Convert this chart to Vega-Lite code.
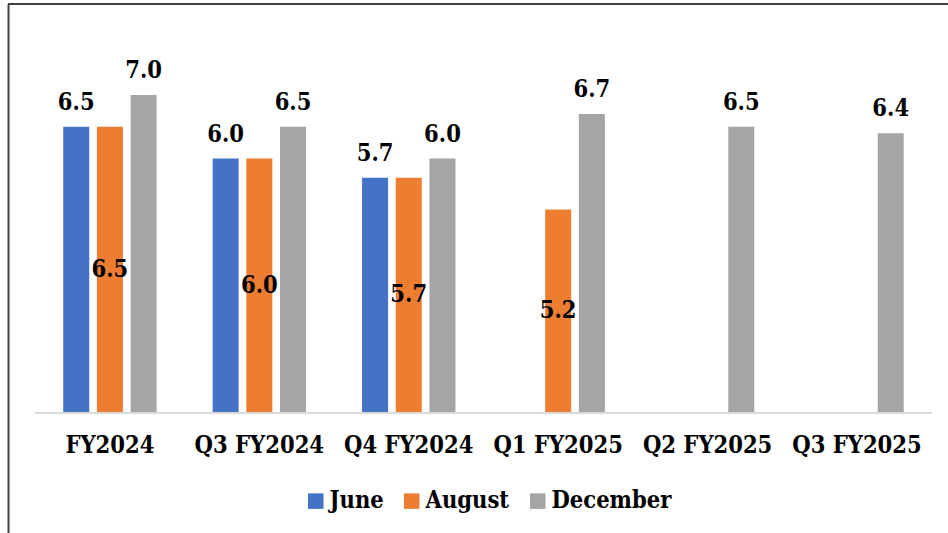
{
  "$schema": "https://vega.github.io/schema/vega-lite/v6.json",
  "width": 940,
  "height": 529,
  "autosize": {"type": "none"},
  "padding": {"left": 8, "top": 4, "right": 0, "bottom": 0},
  "background": "white",
  "config": {"view": {"stroke": null}, "font": "DejaVu Serif Condensed"},
  "data": {
    "values": [
      {"period": "FY2024", "release": "June", "value": 6.5},
      {"period": "FY2024", "release": "August", "value": 6.5},
      {"period": "FY2024", "release": "December", "value": 7.0},
      {"period": "Q3 FY2024", "release": "June", "value": 6.0},
      {"period": "Q3 FY2024", "release": "August", "value": 6.0},
      {"period": "Q3 FY2024", "release": "December", "value": 6.5},
      {"period": "Q4 FY2024", "release": "June", "value": 5.7},
      {"period": "Q4 FY2024", "release": "August", "value": 5.7},
      {"period": "Q4 FY2024", "release": "December", "value": 6.0},
      {"period": "Q1 FY2025", "release": "August", "value": 5.2},
      {"period": "Q1 FY2025", "release": "December", "value": 6.7},
      {"period": "Q2 FY2025", "release": "December", "value": 6.5},
      {"period": "Q3 FY2025", "release": "December", "value": 6.4}
    ]
  },
  "layer": [
    {
      "mark": {"type": "bar"},
      "encoding": {
        "x": {
          "field": "period",
          "type": "nominal",
          "scale": {
            "domain": ["FY2024", "Q3 FY2024", "Q4 FY2024", "Q1 FY2025", "Q2 FY2025", "Q3 FY2025"],
            "paddingInner": 0.375,
            "paddingOuter": 0.333,
            "align": 0.555
          },
          "axis": {
            "title": null,
            "domain": false,
            "ticks": false,
            "grid": false,
            "labelAngle": 0,
            "labelFont": "DejaVu Serif Condensed",
            "labelFontWeight": "bold",
            "labelFontSize": 23.5,
            "labelColor": "#000000",
            "labelPadding": 20,
            "offset": -120
          }
        },
        "xOffset": {
          "field": "release",
          "type": "nominal",
          "scale": {"domain": ["June", "August", "December"], "paddingInner": 0.228, "paddingOuter": 0}
        },
        "y": {
          "field": "value",
          "type": "quantitative",
          "scale": {"domain": [0.113, 8.431], "nice": false, "zero": false},
          "axis": {
            "title": null,
            "domain": true,
            "domainColor": "#404040",
            "domainWidth": 2,
            "labels": false,
            "ticks": false,
            "grid": false
          }
        },
        "y2": {"datum": 2},
        "color": {
          "field": "release",
          "type": "nominal",
          "scale": {"domain": ["June", "August", "December"], "range": ["#4472C4", "#ED7D31", "#A5A5A5"]},
          "legend": {
            "title": null,
            "orient": "none",
            "legendX": 296,
            "legendY": 485,
            "direction": "horizontal",
            "symbolType": "square",
            "symbolSize": 240,
            "symbolStrokeWidth": 0,
            "labelFont": "DejaVu Serif Condensed",
            "labelFontWeight": "bold",
            "labelFontSize": 23.5,
            "labelColor": "#000000",
            "labelOffset": 2,
            "columnPadding": 16,
            "labelLimit": 300
          }
        }
      }
    },
    {
      "mark": {"type": "rule", "color": "#d9d9d9", "strokeWidth": 1.5},
      "encoding": {
        "x": {"datum": "FY2024", "bandPosition": -0.3},
        "x2": {"datum": "Q3 FY2025", "bandPosition": 1.3},
        "y": {"datum": 2}
      }
    },
    {
      "mark": {"type": "rule", "color": "#404040", "strokeWidth": 2},
      "encoding": {"y": {"datum": 8.431}}
    },
    {
      "transform": [{"filter": "datum.release !== 'August'"}],
      "mark": {
        "type": "text",
        "align": "center",
        "baseline": "alphabetic",
        "dy": -17,
        "font": "DejaVu Serif Condensed",
        "fontWeight": "bold",
        "fontSize": 23.5,
        "color": "#000000"
      },
      "encoding": {
        "x": {"field": "period", "type": "nominal"},
        "xOffset": {"field": "release", "type": "nominal"},
        "y": {"field": "value", "type": "quantitative"},
        "text": {"field": "value", "type": "quantitative", "format": ".1f"}
      }
    },
    {
      "transform": [
        {"filter": "datum.release === 'August'"},
        {"calculate": "(datum.value + 2) / 2", "as": "label_mid"}
      ],
      "mark": {
        "type": "text",
        "align": "center",
        "baseline": "middle",
        "font": "DejaVu Serif Condensed",
        "fontWeight": "bold",
        "fontSize": 23.5,
        "color": "#000000"
      },
      "encoding": {
        "x": {"field": "period", "type": "nominal"},
        "xOffset": {"field": "release", "type": "nominal"},
        "y": {"field": "label_mid", "type": "quantitative"},
        "text": {"field": "value", "type": "quantitative", "format": ".1f"}
      }
    }
  ]
}
